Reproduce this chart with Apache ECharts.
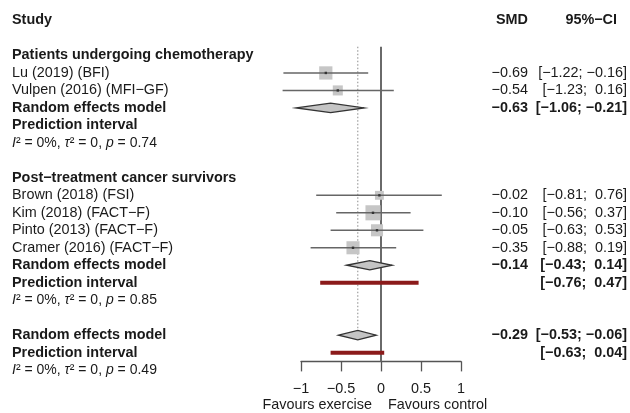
<!DOCTYPE html>
<html><head><meta charset="utf-8">
<script src="https://cdn.jsdelivr.net/npm/echarts@6/dist/echarts.min.js"></script>
<style>html,body{margin:0;padding:0;background:#fff}#c{width:630px;height:413px}</style>
</head><body><div id="c"></div>
<script>
// ---------- data ----------
const groupNames = ['Patients undergoing chemotherapy', 'Post\u2212treatment cancer survivors'];
const studyLabels = ['Lu (2019) (BFI)', 'Vulpen (2016) (MFI\u2212GF)', 'Brown (2018) (FSI)', 'Kim (2018) (FACT\u2212F)', 'Pinto (2013) (FACT\u2212F)', 'Cramer (2016) (FACT\u2212F)'];
const studyGroup = [0, 0, 1, 1, 1, 1];
const studySMD = [-0.69, -0.54, -0.02, -0.10, -0.05, -0.35];
const studyLower = [-1.22, -1.23, -0.81, -0.56, -0.63, -0.88];
const studyUpper = [-0.16, 0.16, 0.76, 0.37, 0.53, 0.19];
const studyWeight = [19.5, 11.2, 8.8, 25.3, 16.2, 19.0];
const groupSMD = [-0.63, -0.14];
const groupLower = [-1.06, -0.43];
const groupUpper = [-0.21, 0.14];
const groupPILower = [null, -0.76];
const groupPIUpper = [null, 0.47];
const groupI2 = ['0%', '0%'];
const groupTau2 = ['0', '0'];
const groupP = ['0.74', '0.85'];
const overallSMD = -0.29, overallLower = -0.53, overallUpper = -0.06;
const overallPILower = -0.63, overallPIUpper = 0.04;
const overallI2 = '0%', overallTau2 = '0', overallP = '0.49';
const xTicks = [-1, -0.5, 0, 0.5, 1];
const labelLeft = 'Favours exercise', labelRight = 'Favours control';

// ---------- row layout ----------
const rows = [];
rows.push({ r: 0, kind: 'header' });
let r = 2;
const studyRow = [];
groupNames.forEach((g, gi) => {
  rows.push({ r: r++, kind: 'groupTitle', g: gi });
  studyGroup.forEach((sg, i) => { if (sg === gi) { studyRow[i] = r; rows.push({ r: r++, kind: 'study', i }); } });
  rows.push({ r: r++, kind: 'rem', g: gi });
  rows.push({ r: r++, kind: 'pi', g: gi });
  rows.push({ r: r++, kind: 'het', g: gi });
  r++;
});
const overallRow = r;
rows.push({ r: r++, kind: 'rem', g: -1 });
rows.push({ r: r++, kind: 'pi', g: -1 });
rows.push({ r: r++, kind: 'het', g: -1 });

const FONT = "'Liberation Sans', Arial, Helvetica, sans-serif";
const FS = 14.4;
const TXT = '#1a1a1a';
const fmt = v => (v < 0 ? '\u2212' : '') + Math.abs(v).toFixed(2);
const ci = (lo, hi) => '[' + (lo >= 0 ? ' ' : '') + fmt(lo) + '; ' + (hi >= 0 ? ' ' : '') + fmt(hi) + ']';

function renderText(params, api) {
  const row = rows[params.dataIndex];
  const y = api.coord([0, row.r])[1];
  const t = (text, x, align, bold) => ({ type: 'text', style: { text, x, y, align, verticalAlign: 'middle', fontFamily: FONT, fontSize: FS, fontWeight: bold ? 'bold' : 'normal', fill: TXT } });
  const kids = [];
  const g = row.g;
  if (row.kind === 'header') {
    kids.push(t('Study', 12, 'left', true), t('SMD', 528, 'right', true), t('95%\u2212CI', 617, 'right', true));
  } else if (row.kind === 'groupTitle') {
    kids.push(t(groupNames[g], 12, 'left', true));
  } else if (row.kind === 'study') {
    const i = row.i;
    kids.push(t(studyLabels[i], 12, 'left'), t(fmt(studySMD[i]), 528, 'right'), t(ci(studyLower[i], studyUpper[i]), 627, 'right'));
  } else if (row.kind === 'rem') {
    const est = g < 0 ? overallSMD : groupSMD[g];
    const lo = g < 0 ? overallLower : groupLower[g];
    const hi = g < 0 ? overallUpper : groupUpper[g];
    kids.push(t('Random effects model', 12, 'left', true), t(fmt(est), 528, 'right', true), t(ci(lo, hi), 627, 'right', true));
  } else if (row.kind === 'pi') {
    kids.push(t('Prediction interval', 12, 'left', true));
    const lo = g < 0 ? overallPILower : groupPILower[g];
    const hi = g < 0 ? overallPIUpper : groupPIUpper[g];
    if (lo !== null) kids.push(t(ci(lo, hi), 627, 'right', true));
  } else if (row.kind === 'het') {
    const i2 = g < 0 ? overallI2 : groupI2[g];
    const tau = g < 0 ? overallTau2 : groupTau2[g];
    const p = g < 0 ? overallP : groupP[g];
    kids.push({ type: 'text', style: {
      text: '{i|I}{n|\u00b2 = ' + i2 + ', }{i|\u03c4}{n|\u00b2 = ' + tau + ', }{i|p}{n| = ' + p + '}',
      x: 12, y, align: 'left', verticalAlign: 'middle',
      rich: {
        i: { fontFamily: FONT, fontSize: 14, fontStyle: 'italic', fill: TXT },
        n: { fontFamily: FONT, fontSize: 14, fill: TXT }
      }
    } });
  }
  return { type: 'group', children: kids };
}

function renderStudy(params, api) {
  const est = api.value(0), lo = api.value(1), hi = api.value(2), rr = api.value(3), w = api.value(4);
  const c = api.coord([est, rr]);
  const a = api.coord([lo, rr]), b = api.coord([hi, rr]);
  const s = 3 * Math.sqrt(w);
  return { type: 'group', children: [
    { type: 'rect', shape: { x: c[0] - s / 2, y: c[1] - s / 2, width: s, height: s }, style: { fill: '#c6c6c6' } },
    { type: 'line', shape: { x1: a[0], y1: c[1], x2: b[0], y2: c[1] }, style: { stroke: '#666', lineWidth: 1.5 } },
    { type: 'rect', shape: { x: c[0] - 1.2, y: c[1] - 1.2, width: 2.4, height: 2.4 }, style: { fill: '#333' } }
  ] };
}

function renderDiamond(params, api) {
  const est = api.value(0), lo = api.value(1), hi = api.value(2), rr = api.value(3);
  const c = api.coord([est, rr]), a = api.coord([lo, rr]), b = api.coord([hi, rr]);
  const h = 4.7;
  return { type: 'polygon', shape: { points: [[a[0], c[1]], [c[0], c[1] - h], [b[0], c[1]], [c[0], c[1] + h]] },
    style: { fill: '#c4c4c4', stroke: '#333', lineWidth: 1.3 } };
}

function renderPI(params, api) {
  const a = api.coord([api.value(0), api.value(2)]), b = api.coord([api.value(1), api.value(2)]);
  return { type: 'rect', shape: { x: a[0], y: a[1] - 2, width: b[0] - a[0], height: 4 }, style: { fill: '#8b1a1a' } };
}

function renderRef(params, api) {
  const a = api.coord([api.value(0), api.value(1)]), b = api.coord([api.value(0), api.value(2)]);
  const dotted = api.value(3) === 1;
  return { type: 'line', shape: { x1: a[0], y1: a[1], x2: b[0], y2: b[1] },
    style: dotted ? { stroke: '#8a8a8a', lineWidth: 1, lineDash: [1.5, 2] } : { stroke: '#6a6a6a', lineWidth: 2 } };
}

const studyData = studySMD.map((v, i) => [v, studyLower[i], studyUpper[i], studyRow[i], studyWeight[i]]);
const diamondData = [];
rows.forEach(rw => { if (rw.kind === 'rem') {
  const g = rw.g;
  diamondData.push(g < 0 ? [overallSMD, overallLower, overallUpper, rw.r] : [groupSMD[g], groupLower[g], groupUpper[g], rw.r]);
} });
const piData = [];
rows.forEach(rw => { if (rw.kind === 'pi') {
  const g = rw.g;
  const lo = g < 0 ? overallPILower : groupPILower[g];
  const hi = g < 0 ? overallPIUpper : groupPIUpper[g];
  if (lo !== null) piData.push([lo, hi, rw.r]);
} });
const refData = [[0, 1.5, 19.5, 0], [overallSMD, 1.5, overallRow, 1]];

const chart = echarts.init(document.getElementById('c'), null, { renderer: 'canvas' });
chart.setOption({
  animation: false,
  backgroundColor: '#fff',
  grid: { left: 301, width: 160, top: 20.5, height: 340.9 },
  xAxis: {
    type: 'value', min: -1, max: 1, interval: 0.5, position: 'bottom',
    axisLine: { show: true, onZero: false, lineStyle: { color: '#555', width: 1.3 } },
    axisTick: { show: true, length: 10, inside: false, lineStyle: { color: '#555', width: 1.3 } },
    axisLabel: { fontFamily: FONT, fontSize: FS, color: TXT, margin: 21,
      formatter: v => xTicks.includes(v) ? (v < 0 ? '\u2212' + (-v) : String(v)) : '' },
    splitLine: { show: false }
  },
  yAxis: { type: 'value', inverse: true, min: 0, max: 19.5, show: false },
  graphic: [
    { type: 'text', x: 372, y: 405, style: { text: labelLeft, align: 'right', verticalAlign: 'middle', fontFamily: FONT, fontSize: FS, fill: TXT } },
    { type: 'text', x: 388, y: 405, style: { text: labelRight, align: 'left', verticalAlign: 'middle', fontFamily: FONT, fontSize: FS, fill: TXT } }
  ],
  series: [
    { type: 'custom', renderItem: renderRef, data: refData, clip: false, silent: true, z: 1 },
    { type: 'custom', renderItem: renderStudy, data: studyData, clip: false, silent: true, z: 2 },
    { type: 'custom', renderItem: renderDiamond, data: diamondData, clip: false, silent: true, z: 3 },
    { type: 'custom', renderItem: renderPI, data: piData, clip: false, silent: true, z: 3 },
    { type: 'custom', renderItem: renderText, data: rows.map(rw => [0, rw.r]), clip: false, silent: true, z: 4 }
  ]
});
</script>
</body></html>
